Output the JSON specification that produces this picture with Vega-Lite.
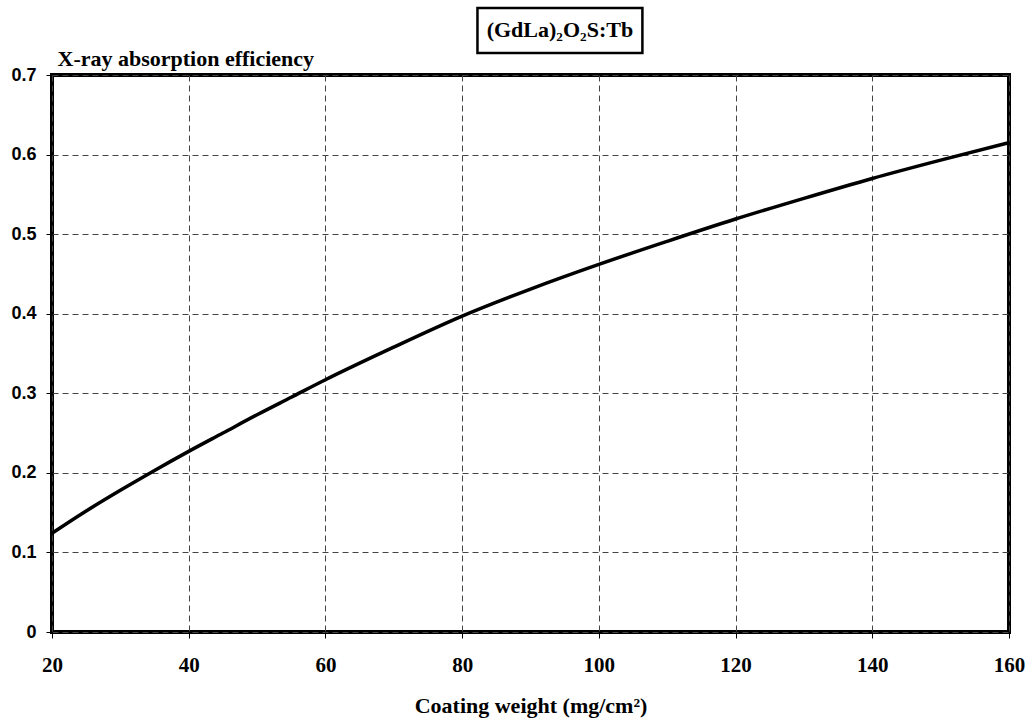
{
  "$schema": "https://vega.github.io/schema/vega-lite/v6.json",
  "width": 957,
  "height": 557,
  "autosize": {"type": "none"},
  "padding": {"left": 52, "top": 75, "right": 21, "bottom": 88},
  "background": "white",
  "config": {
    "view": {"stroke": "black", "strokeWidth": 4},
    "axis": {
      "domain": false,
      "grid": true,
      "gridColor": "#444444",
      "gridDash": [6, 4],
      "gridWidth": 1,
      "tickColor": "black",
      "tickSize": 6,
      "tickWidth": 1
    }
  },
  "layer": [
    {
      "data": {
        "values": [
          {"weight": 20, "eff": 0.124},
          {"weight": 25, "eff": 0.152},
          {"weight": 30, "eff": 0.178},
          {"weight": 35, "eff": 0.203},
          {"weight": 40, "eff": 0.227},
          {"weight": 45, "eff": 0.250},
          {"weight": 50, "eff": 0.273},
          {"weight": 55, "eff": 0.295},
          {"weight": 60, "eff": 0.317},
          {"weight": 70, "eff": 0.358},
          {"weight": 80, "eff": 0.397},
          {"weight": 90, "eff": 0.431},
          {"weight": 100, "eff": 0.462},
          {"weight": 110, "eff": 0.491},
          {"weight": 120, "eff": 0.519},
          {"weight": 130, "eff": 0.545},
          {"weight": 140, "eff": 0.570},
          {"weight": 150, "eff": 0.593},
          {"weight": 160, "eff": 0.615}
        ]
      },
      "mark": {"type": "line", "color": "black", "strokeWidth": 3.5, "interpolate": "monotone"},
      "encoding": {
        "x": {
          "field": "weight",
          "type": "quantitative",
          "scale": {"domain": [20, 160], "nice": false, "zero": false},
          "axis": {
            "values": [20, 40, 60, 80, 100, 120, 140, 160],
            "title": "Coating weight (mg/cm²)",
            "titleFont": "Liberation Serif",
            "titleFontSize": 22,
            "titleFontWeight": "bold",
            "titleColor": "black",
            "titleBaseline": "middle",
            "titleY": 73,
            "labelFont": "Liberation Serif",
            "labelFontSize": 21,
            "labelFontWeight": "bold",
            "labelColor": "black",
            "labelPadding": 16,
            "labelFlush": false
          }
        },
        "y": {
          "field": "eff",
          "type": "quantitative",
          "scale": {"domain": [0, 0.7], "nice": false},
          "axis": {
            "values": [0, 0.1, 0.2, 0.3, 0.4, 0.5, 0.6, 0.7],
            "format": ".1~f",
            "title": "X-ray absorption efficiency",
            "titleAngle": 0,
            "titleAlign": "left",
            "titleBaseline": "alphabetic",
            "titleX": 5,
            "titleY": -10,
            "titleFont": "Liberation Serif",
            "titleFontSize": 22,
            "titleFontWeight": "bold",
            "titleColor": "black",
            "labelFont": "Liberation Sans",
            "labelFontSize": 18,
            "labelFontWeight": "bold",
            "labelColor": "black",
            "labelPadding": 10,
            "labelFlush": false
          }
        }
      }
    },
    {
      "data": {"values": [{"label": "(GdLa)₂O₂S:Tb"}]},
      "mark": {"type": "rect", "fill": "white", "stroke": "black", "strokeWidth": 2.5},
      "encoding": {
        "x": {"datum": 82.24, "type": "quantitative"},
        "x2": {"datum": 106.37},
        "y": {"datum": 0.7842, "type": "quantitative"},
        "y2": {"datum": 0.7276}
      }
    },
    {
      "data": {"values": [{"label": "(GdLa)₂O₂S:Tb"}]},
      "mark": {"type": "text", "font": "Liberation Serif", "fontSize": 22, "fontWeight": "bold", "color": "black", "baseline": "middle", "align": "center"},
      "encoding": {
        "x": {"datum": 94.3, "type": "quantitative"},
        "y": {"datum": 0.7566, "type": "quantitative"},
        "text": {"field": "label"}
      }
    }
  ]
}
